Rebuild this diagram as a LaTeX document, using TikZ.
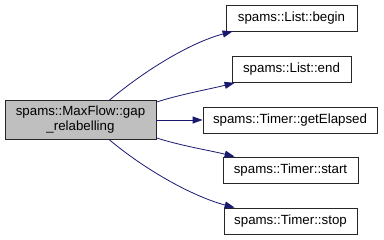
\documentclass[tikz,border=0pt]{standalone}
\usepackage{fontspec}
\setmainfont{Liberation Sans}
\usetikzlibrary{arrows.meta}
\definecolor{edgeblue}{HTML}{191970}
\definecolor{mainfill}{HTML}{BFBFBF}
\begin{document}
\begin{tikzpicture}[x=1pt, y=1pt,
  fn/.style={draw=black!85, line width=0.8pt, fill=white, minimum height=26pt, inner sep=0pt, font=\fontsize{13.3}{15}\selectfont},
  call/.style={draw=edgeblue, line width=0.8pt, -{Triangle[length=10pt, width=7pt]}, edgeblue}]
\useasboundingbox (0,0) rectangle (384,240);
\node[fn, fill=mainfill, minimum width=151pt, minimum height=39pt, align=center] (main) at (80.5,120){spams::MaxFlow::gap\\\_relabelling};
\node[fn, minimum width=131pt] (begin) at (291.5,222){spams::List::begin};
\node[fn, minimum width=119pt] (end) at (291.5,170.5){spams::List::end};
\node[fn, minimum width=174pt] (elapsed) at (290,120){spams::Timer::getElapsed};
\node[fn, minimum width=135pt] (start) at (290.5,70){spams::Timer::start};
\node[fn, minimum width=133pt] (stop) at (290.5,19){spams::Timer::stop};
\draw[call]([xshift=29pt]main.north) .. controls +(40:45) and +(195:45) .. ([xshift=7pt]begin.south west);
\draw[call]([yshift=-2pt]main.north east) .. controls +(18:25) and +(194:25) .. ([xshift=3pt]end.south west);
\draw[call](main.east) -- (elapsed.west);
\draw[call]([yshift=2pt]main.south east) .. controls +(-18:25) and +(166:25) .. ([xshift=12pt]start.north west);
\draw[call]([xshift=29pt]main.south) .. controls +(-40:45) and +(165:45) .. ([xshift=11pt]stop.north west);
\end{tikzpicture}
\end{document}
